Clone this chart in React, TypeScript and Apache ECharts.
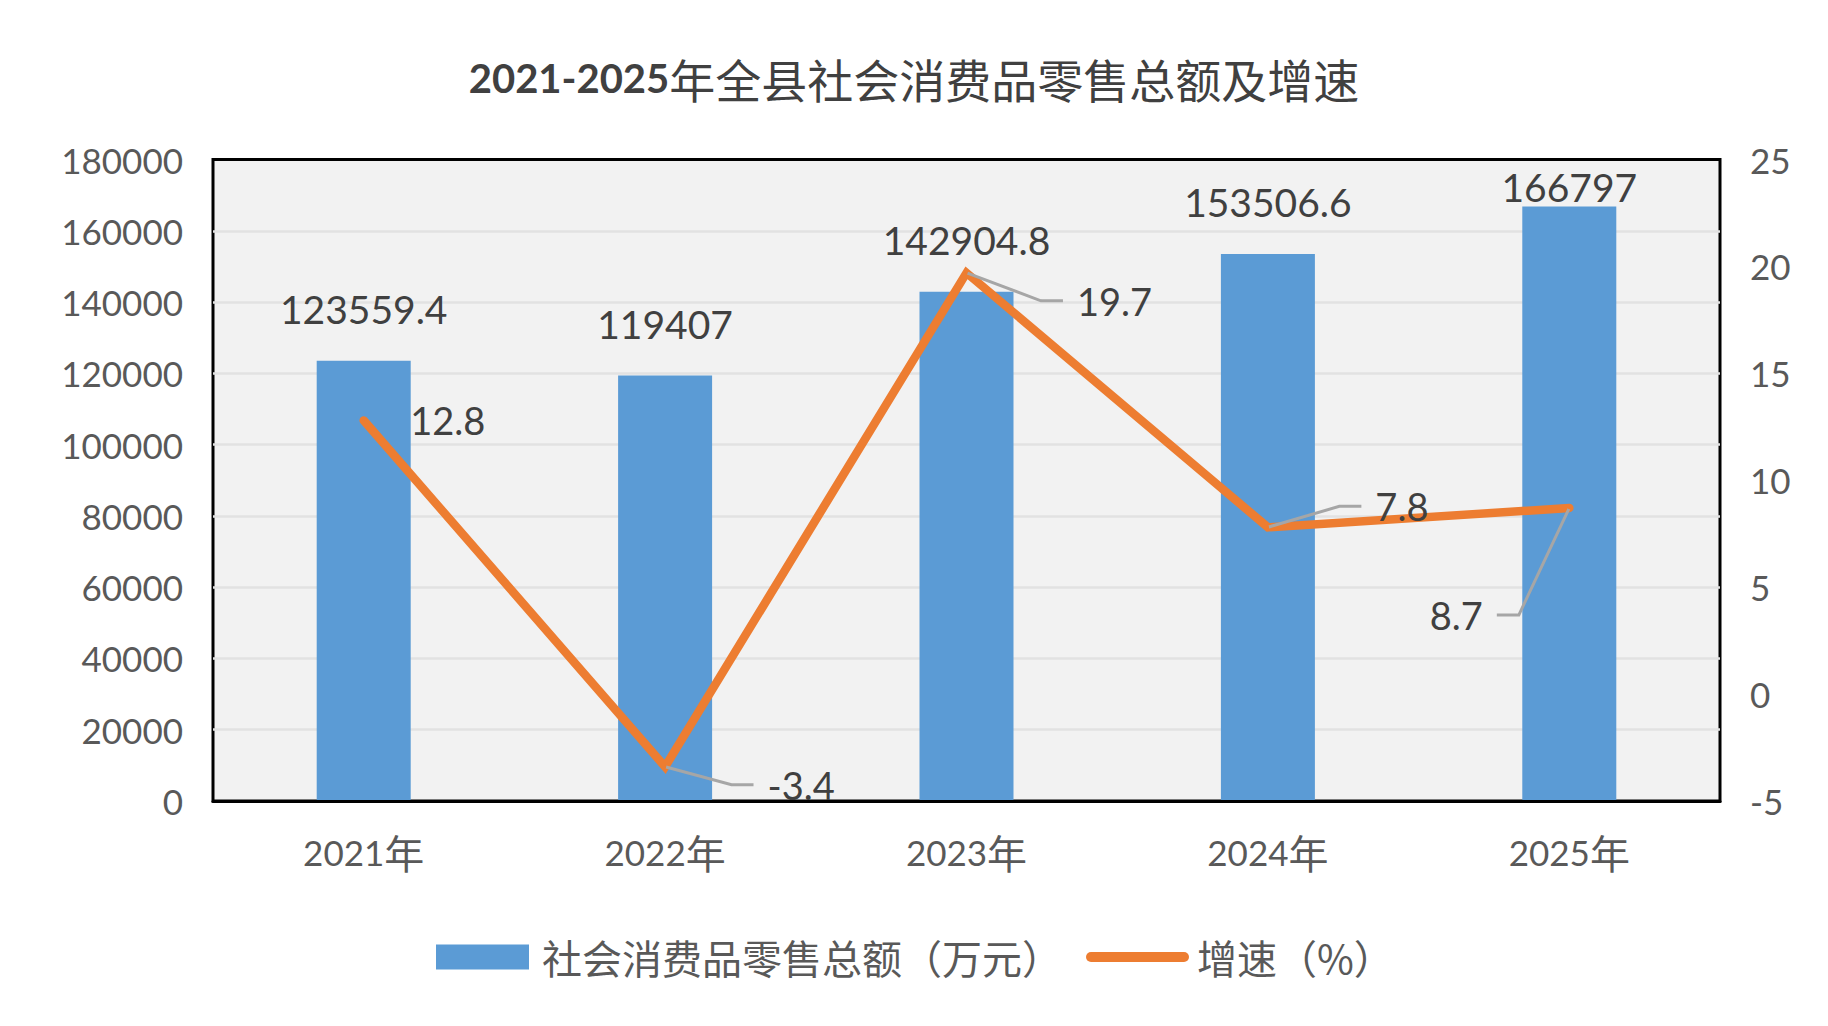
import React, { useEffect, useRef } from 'react';
import * as echarts from 'echarts';

// ---- data ----
const YEARS = ['2021', '2022', '2023', '2024', '2025'];
const CATEGORIES = YEARS.map((y) => y + '年');
const SALES = [123559.4, 119407, 142904.8, 153506.6, 166797];
const GROWTH = [12.8, -3.4, 19.7, 7.8, 8.7];
const LEFT_AXIS = { min: 0, max: 180000, interval: 20000 };
const RIGHT_AXIS = { min: -5, max: 25, interval: 5 };
const SALES_NAME = '社会消费品零售总额（万元）';
const GROWTH_NAME = '增速（%）';
const TITLE_YEARS = '2021-2025';
const TITLE_REST = '年全县社会消费品零售总额及增速';

// ---- label styling (not data) ----
const BAR_LABEL_DISTANCE = [32, 32, 32, 32, 0];
const GROWTH_LABEL_OFFSET: number[][] = [
  [84, 0],
  [136, 18],
  [148, 28],
  [134, -21],
  [-113, 107],
];
const GROWTH_LEADER = [false, true, true, true, true];

const NUM_FONT = 'Lato, "Noto Sans CJK SC", sans-serif';
const CJK_FONT = '"Noto Sans CJK SC", sans-serif';

export default function App() {
  const ref = useRef<HTMLDivElement>(null);

  useEffect(() => {
    if (!ref.current) return;
    const chart = echarts.init(ref.current, undefined, { renderer: 'svg' });

    const axisLabelStyle = {
      fontFamily: NUM_FONT,
      fontSize: 35,
      color: '#595959',
      margin: 30,
      formatter: (v: number) => String(v),
    };

    const option: any = {
      animation: false,
      backgroundColor: '#ffffff',
      title: {
        text: `{a|${TITLE_YEARS}}{b|${TITLE_REST}}`,
        left: 'center',
        top: 46,
        textStyle: {
          rich: {
            a: { fontFamily: NUM_FONT, fontSize: 40, fontWeight: 'bold', color: '#404040', lineHeight: 54 },
            b: { fontFamily: CJK_FONT, fontSize: 46, fontWeight: 'normal', color: '#404040', lineHeight: 54 },
          },
        },
      },
      legend: {
        left: 431,
        top: 932,
        itemWidth: 93,
        itemHeight: 25,
        itemGap: 24,
        textStyle: { fontFamily: CJK_FONT, fontSize: 40, color: '#595959', padding: [0, 0, 0, 8] },
        data: [
          { name: SALES_NAME, icon: 'rect' },
          { name: GROWTH_NAME, itemStyle: { opacity: 0 }, lineStyle: { width: 10, cap: 'round' } },
        ],
      },
      grid: {
        left: 213,
        right: 108,
        top: 159.5,
        bottom: 225,
        show: true,
        backgroundColor: '#f2f2f2',
        borderColor: '#000000',
        borderWidth: 3,
      },
      xAxis: {
        type: 'category',
        data: CATEGORIES,
        z: 5,
        axisLine: { show: true, lineStyle: { color: '#000000', width: 3 } },
        axisTick: { show: false },
        splitLine: { show: false },
        axisLabel: {
          margin: 31,
          formatter: (v: string) => `{d|${v.slice(0, v.length - 1)}}{c|${v.slice(v.length - 1)}}`,
          rich: {
            d: { fontFamily: NUM_FONT, fontSize: 35, color: '#595959' },
            c: { fontFamily: CJK_FONT, fontSize: 40, color: '#595959' },
          },
        },
      },
      yAxis: [
        {
          type: 'value',
          min: LEFT_AXIS.min,
          max: LEFT_AXIS.max,
          interval: LEFT_AXIS.interval,
          axisLine: { show: false },
          axisTick: { show: false },
          axisLabel: axisLabelStyle,
          splitLine: {
            show: true,
            showMinLine: false,
            showMaxLine: false,
            lineStyle: { color: '#e2e2e2', width: 2.5 },
          },
        },
        {
          type: 'value',
          min: RIGHT_AXIS.min,
          max: RIGHT_AXIS.max,
          interval: RIGHT_AXIS.interval,
          axisLine: { show: false },
          axisTick: { show: false },
          axisLabel: axisLabelStyle,
          splitLine: { show: false },
        },
      ],
      series: [
        {
          name: SALES_NAME,
          type: 'bar',
          barWidth: 94,
          data: SALES.map((v, i) => ({ value: v, label: { distance: BAR_LABEL_DISTANCE[i] } })),
          itemStyle: { color: '#5B9BD5' },
          label: {
            show: true,
            position: 'top',
            fontFamily: NUM_FONT,
            fontSize: 39,
            color: '#404040',
          },
        },
        {
          name: GROWTH_NAME,
          type: 'line',
          yAxisIndex: 1,
          z: 3,
          data: GROWTH.map((v, i) => ({ value: v, labelLine: { show: GROWTH_LEADER[i] } })),
          symbol: 'circle',
          symbolSize: 2,
          showSymbol: true,
          itemStyle: { color: '#ED7D31' },
          lineStyle: { color: '#ED7D31', width: 8.5, cap: 'round', join: 'miter' },
          label: {
            show: true,
            fontFamily: NUM_FONT,
            fontSize: 38,
            color: '#404040',
            padding: [0, 14],
            backgroundColor: 'rgba(0,0,0,0)',
          },
          labelLine: {
            show: false,
            length2: 22,
            lineStyle: { color: '#A6A6A6', width: 3 },
          },
          labelLayout: (p: any) => {
            const o = GROWTH_LABEL_OFFSET[p.dataIndex];
            return {
              x: p.rect.x + p.rect.width / 2 + o[0],
              y: p.rect.y + p.rect.height / 2 + o[1],
              align: 'center',
              verticalAlign: 'middle',
            };
          },
        },
      ],
    };

    chart.setOption(option);
    return () => {
      chart.dispose();
    };
  }, []);

  return (
    <div
      ref={ref}
      style={{ position: 'absolute', left: 0, top: 0, width: 1828, height: 1026, background: '#fff' }}
    />
  );
}
